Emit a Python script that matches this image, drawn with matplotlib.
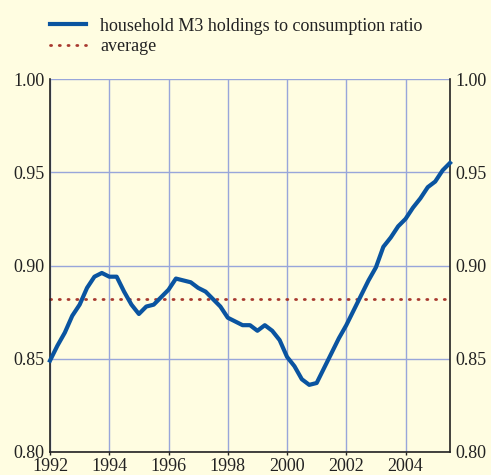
import matplotlib
matplotlib.use("Agg")
import matplotlib.pyplot as plt
from matplotlib.lines import Line2D
import numpy as np

# Quarterly dates 1992Q1 .. 2005Q3
dates = [1992.00, 1992.25, 1992.50, 1992.75,
         1993.00, 1993.25, 1993.50, 1993.75,
         1994.00, 1994.25, 1994.50, 1994.75,
         1995.00, 1995.25, 1995.50, 1995.75,
         1996.00, 1996.25, 1996.50, 1996.75,
         1997.00, 1997.25, 1997.50, 1997.75,
         1998.00, 1998.25, 1998.50, 1998.75,
         1999.00, 1999.25, 1999.50, 1999.75,
         2000.00, 2000.25, 2000.50, 2000.75,
         2001.00, 2001.25, 2001.50, 2001.75,
         2002.00, 2002.25, 2002.50, 2002.75,
         2003.00, 2003.25, 2003.50, 2003.75,
         2004.00, 2004.25, 2004.50, 2004.75,
         2005.00, 2005.25, 2005.50]

ratio = [0.849, 0.857, 0.864, 0.873,
         0.879, 0.888, 0.894, 0.896,
         0.894, 0.894, 0.886, 0.879,
         0.874, 0.878, 0.879, 0.883,
         0.887, 0.893, 0.892, 0.891,
         0.888, 0.886, 0.882, 0.878,
         0.872, 0.870, 0.868, 0.868,
         0.865, 0.868, 0.865, 0.860,
         0.851, 0.846, 0.839, 0.836,
         0.837, 0.845, 0.853, 0.861,
         0.868, 0.876, 0.884, 0.892,
         0.899, 0.910, 0.915, 0.921,
         0.925, 0.931, 0.936, 0.942,
         0.945, 0.951, 0.955]

average = 0.882

x_ticks = [1992, 1994, 1996, 1998, 2000, 2002, 2004]
y_ticks = [0.80, 0.85, 0.90, 0.95, 1.00]
y_labels = ["0.80", "0.85", "0.90", "0.95", "1.00"]

series_label = "household M3 holdings to consumption ratio"
avg_label = "average"

BG = "#fffde1"
BLUE = "#0a54a0"
RED = "#a8392f"
GRID = "#98a6da"

plt.rcParams['font.family'] = ['Liberation Serif', 'DejaVu Serif']

fig = plt.figure(figsize=(4.91, 4.75), dpi=100, facecolor=BG)
ax = fig.add_axes([50/491, (475-452)/475, 400/491, (452-79)/475])
ax.set_facecolor(BG)

ax.plot(dates, ratio, color=BLUE, lw=3.0, solid_joinstyle='round', zorder=3, clip_on=False)
ax.axhline(average, color=RED, lw=2.0, linestyle=(0, (0.4, 2.75)),
           dash_capstyle='round', zorder=2, clip_on=False)

ax.set_xlim(1992, 2005.5)
ax.set_ylim(0.80, 1.00)
ax.set_xticks(x_ticks)
ax.set_xticklabels([str(t) for t in x_ticks])
ax.set_yticks(y_ticks)
ax.set_yticklabels(y_labels)

ax.grid(True, color=GRID, lw=1.0, zorder=1)
ax.set_axisbelow(True)

for s in ['left', 'right', 'bottom']:
    ax.spines[s].set_color('#222222')
    ax.spines[s].set_linewidth(1.2)
ax.spines['top'].set_visible(False)

ax.tick_params(axis='x', direction='out', length=2.0, width=1.0, color='#222222',
               labelsize=13, pad=2.5, labelcolor='#222222')
ax.tick_params(axis='y', length=0, labelsize=13, pad=4, labelcolor='#222222',
               left=True, right=True, labelleft=True, labelright=True)

handles = [Line2D([], [], color=BLUE, lw=3.0),
           Line2D([], [], color=RED, lw=2.0, linestyle=(0, (0.4, 2.75)),
                  dash_capstyle='round')]
fig.legend(handles, [series_label, avg_label], loc='upper left',
           bbox_to_anchor=(34/491, 1 - 1.5/475), frameon=False, fontsize=13,
           handlelength=2.0, handletextpad=0.75, labelspacing=0.2,
           labelcolor='#222222')

fig.savefig("out.png", dpi=100, facecolor=BG)
